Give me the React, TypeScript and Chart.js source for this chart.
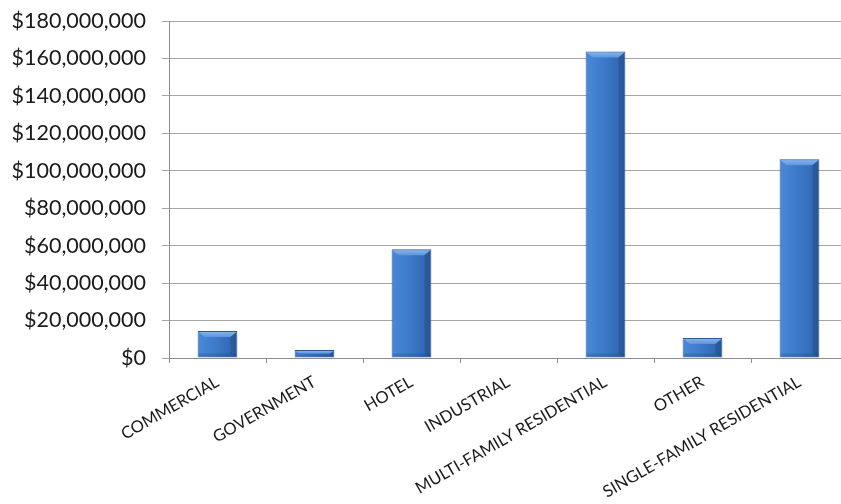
import React, { useEffect, useRef } from "react";
import { Chart, registerables } from "chart.js";

Chart.register(...registerables);

const categories = [
  "COMMERCIAL",
  "GOVERNMENT",
  "HOTEL",
  "INDUSTRIAL",
  "MULTI-FAMILY RESIDENTIAL",
  "OTHER",
  "SINGLE-FAMILY RESIDENTIAL",
];
const values = [14400000, 4300000, 58100000, 300000, 163700000, 10700000, 106100000];
const yMin = 0;
const yMax = 180000000;
const yStep = 20000000;

const fmt = (v: number) => "$" + Math.round(v).toLocaleString("en-US");

const bevelPlugin = {
  id: "bevel",
  afterDatasetsDraw(chart: any) {
    const ctx = chart.ctx;
    const meta = chart.getDatasetMeta(0);
    meta.data.forEach((bar: any) => {
      const { x, y, width, base } = bar.getProps(["x", "y", "width", "base"], true);
      const left = x - width / 2;
      const right = x + width / 2;
      const h = base - y;
      if (!isFinite(h) || h < 2) return;
      const bev = Math.min(6, h / 2);
      ctx.save();
      const g = ctx.createLinearGradient(0, y, 0, y + bev);
      g.addColorStop(0, "#8ab8ee");
      g.addColorStop(1, "#5d95dc");
      ctx.fillStyle = g;
      ctx.beginPath();
      ctx.moveTo(left + 1, y + 1);
      ctx.lineTo(right - 1, y + 1);
      ctx.lineTo(right - 1 - bev, y + bev);
      ctx.lineTo(left + 1 + bev, y + bev);
      ctx.closePath();
      ctx.fill();
      ctx.fillStyle = "rgba(20,50,100,0.25)";
      ctx.beginPath();
      ctx.moveTo(right - 1, y + 1);
      ctx.lineTo(right - 1, base - 1);
      ctx.lineTo(right - 1 - bev, base - 1 - Math.min(bev, 3));
      ctx.lineTo(right - 1 - bev, y + bev);
      ctx.closePath();
      ctx.fill();
      ctx.fillStyle = "rgba(20,50,100,0.2)";
      ctx.fillRect(left + 1, base - 4, width - 2, 3);
      ctx.restore();
    });
  },
};

const CANVAS_W = 848;
const CANVAS_H = 504;

export default function App() {
  const ref = useRef<HTMLCanvasElement>(null);
  useEffect(() => {
    document.body.style.margin = "0";
    const canvas = ref.current!;
    const chart = new Chart(canvas, {
      type: "bar",
      data: {
        labels: categories,
        datasets: [
          {
            data: values,
            backgroundColor: (c: any) => {
              const ch = c.chart;
              const xs = ch.scales?.x;
              if (!xs || c.dataIndex === undefined) return "#3a75c4";
              const cx = xs.getPixelForValue(c.dataIndex);
              const w = (xs.width / categories.length) * 0.41;
              if (!isFinite(cx) || !isFinite(w) || w <= 0) return "#3a75c4";
              const g = ch.ctx.createLinearGradient(cx - w / 2, 0, cx + w / 2, 0);
              g.addColorStop(0, "#4a88d8");
              g.addColorStop(0.5, "#3b78c8");
              g.addColorStop(1, "#2f62a8");
              return g;
            },
            borderColor: "#2d5790",
            borderWidth: 1,
            barPercentage: 0.41,
            categoryPercentage: 1,
          },
        ],
      },
      options: {
        animation: false,
        responsive: false,
        maintainAspectRatio: false,
        layout: { padding: { top: 21, right: 0, left: 0, bottom: 0 } },
        plugins: { legend: { display: false }, tooltip: { enabled: false } },
        scales: {
          x: {
            grid: {
              display: true,
              drawOnChartArea: false,
              drawTicks: true,
              tickLength: 5,
              color: "#8c8c8c",
              offset: true,
            },
            border: { color: "#8c8c8c", width: 1 },
            ticks: {
              minRotation: 30,
              maxRotation: 30,
              autoSkip: false,
              color: "#1a1a1a",
              font: { family: "Lato", size: 16.5 },
              padding: 9,
            },
            afterFit: (s: any) => {
              s.height = 146;
              s.paddingLeft = 0;
              s.paddingRight = 0;
            },
          },
          y: {
            min: yMin,
            max: yMax,
            ticks: {
              stepSize: yStep,
              callback: (v: any) => fmt(Number(v)),
              color: "#1a1a1a",
              font: { family: "Lato", size: 21.5 },
              padding: 16,
            },
            grid: {
              color: "#a6a6a6",
              lineWidth: 1,
              tickLength: 7,
            },
            border: { color: "#8c8c8c", width: 1 },
            afterFit: (s: any) => {
              s.width = 169;
              s.paddingTop = 0;
              s.paddingBottom = 0;
            },
          },
        },
      },
      plugins: [bevelPlugin],
    });
    return () => chart.destroy();
  }, []);
  return (
    <div style={{ width: 841, height: 504, overflow: "hidden", background: "#fff" }}>
      <canvas ref={ref} width={CANVAS_W} height={CANVAS_H} style={{ display: "block" }} />
    </div>
  );
}
